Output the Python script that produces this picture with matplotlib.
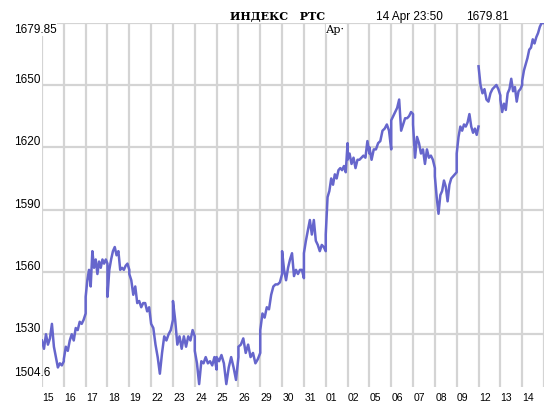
import numpy as np
import matplotlib.pyplot as plt
from matplotlib.transforms import blended_transform_factory

# торговые дни (подписи оси X)
days = ["15", "16", "17", "18", "19", "22", "23", "24", "25", "26", "29", "30",
        "31", "01", "02", "05", "06", "07", "08", "09", "12", "13", "14"]

# значения индекса внутри каждого дня
day_values = [
    [1527, 1523, 1530, 1525, 1528, 1535, 1524, 1519, 1514, 1516, 1515, 1517],
    [1518, 1524, 1522, 1527, 1530, 1527, 1533, 1532, 1536, 1535, 1537, 1540],
    [1548, 1556, 1561, 1553, 1570, 1562, 1566, 1559, 1565, 1562, 1566, 1564, 1566, 1564],
    [1548, 1561, 1566, 1570, 1572, 1568, 1570, 1561, 1562, 1561, 1563, 1564, 1561],
    [1559, 1556, 1549, 1553, 1545, 1546, 1543, 1545, 1545, 1541, 1543, 1535],
    [1535, 1533, 1525, 1519, 1511, 1521, 1529, 1527, 1530, 1532, 1537],
    [1546, 1537, 1525, 1529, 1523, 1529, 1524, 1529, 1527, 1532, 1529],
    [1522, 1516, 1506, 1517, 1516, 1519, 1516, 1517, 1515, 1519, 1513],
    [1519, 1517, 1520, 1516, 1506, 1514, 1519, 1514, 1508, 1519],
    [1524, 1525, 1528, 1521, 1525, 1519, 1521, 1516, 1518, 1521],
    [1532, 1540, 1538, 1543, 1542, 1549, 1553, 1554, 1554, 1555, 1559],
    [1570, 1561, 1556, 1562, 1566, 1569, 1558, 1561, 1559, 1561, 1561, 1557],
    [1569, 1575, 1580, 1585, 1578, 1585, 1575, 1573, 1570, 1573, 1572, 1570],
    [1578, 1596, 1599, 1605, 1602, 1607, 1605, 1609, 1610, 1609, 1611, 1608, 1622],
    [1614, 1617, 1612, 1615, 1610, 1614, 1614, 1615, 1616, 1615, 1623, 1617],
    [1620, 1614, 1619, 1619, 1622, 1623, 1628, 1629, 1631, 1628, 1619],
    [1633, 1635, 1637, 1639, 1643, 1628, 1631, 1634, 1634, 1635, 1637, 1636],
    [1631, 1615, 1625, 1622, 1617, 1619, 1612, 1619, 1615, 1616, 1614, 1610],
    [1606, 1596, 1588, 1597, 1599, 1604, 1601, 1594, 1602, 1605, 1606, 1607, 1608],
    [1617, 1625, 1630, 1628, 1631, 1630, 1632, 1636, 1630, 1627, 1629, 1626, 1630],
    [1659, 1650, 1646, 1648, 1643, 1642, 1646, 1648, 1649, 1650, 1648, 1645],
    [1643, 1637, 1641, 1638, 1646, 1648, 1653, 1647, 1649, 1642, 1647, 1648, 1650],
    [1652, 1657, 1660, 1663, 1667, 1668, 1672, 1670, 1673, 1675, 1678, 1679.85, 1679.81],
]
gap_before = ["12"]  # разрыв линии перед этим днём

y_ticks = [1504.6, 1530, 1560, 1590, 1620, 1650, 1679.85]

xs, ys = [], []
for k, vals in enumerate(day_values):
    if days[k] in gap_before:
        xs.append(np.nan)
        ys.append(np.nan)
    n = len(vals)
    for i, v in enumerate(vals):
        xs.append(k + i / (n - 1) if k < len(days) - 1 else k + i / (n - 1) * 0.97)
        ys.append(v)

fig = plt.figure(figsize=(5.49, 4.06), dpi=100)
ax = fig.add_axes([42 / 549, 1 - 388 / 406, 502 / 549, 364 / 406])

grid_c = "#d4d4d4"
for k in range(len(days) + 1):
    ax.axvline(k, color=grid_c, lw=1.6, zorder=1)
for v in y_ticks[1:]:
    ax.axhline(v, color=grid_c, lw=1.6, zorder=1)

ax.plot(xs, ys, color="#6666cc", lw=1.8, zorder=3)

ax.set_xlim(0, len(days))
ax.set_ylim(y_ticks[0], y_ticks[-1])
for s in ax.spines.values():
    s.set_visible(False)
ax.set_xticks([])
ax.set_yticks([])

fnt = "Liberation Sans"
# подписи дней
for k, d in enumerate(days):
    ax.text(k + 0.28, -0.014, d, transform=blended_transform_factory(ax.transData, ax.transAxes),
            ha="center", va="top", fontsize=7.5, family=fnt)

# подписи значений
tr = blended_transform_factory(ax.transAxes, ax.transData)
x_lab = (14 - 42) / 502
for v in y_ticks:
    lab = "%g" % v
    if v == y_ticks[-1]:
        ax.text(x_lab, v, lab, transform=tr, ha="left", va="top", fontsize=8.5, family=fnt,
                bbox=dict(fc="white", ec="none", pad=0.5), zorder=5)
    elif v == y_ticks[0]:
        ax.text(x_lab, v + 4.5, lab, transform=tr, ha="left", va="bottom", fontsize=8.5, family=fnt)
    else:
        ax.text(x_lab, v, lab, transform=tr, ha="left", va="bottom", fontsize=8.5, family=fnt)

# заголовок
fig.text(230 / 549, 1 - 20 / 406, "ИНДЕКС   РТС", fontsize=8, family="DejaVu Serif",
         weight="bold", ha="left", va="baseline")
fig.text(376 / 549, 1 - 20 / 406, "14 Apr 23:50", fontsize=8.5, family=fnt, ha="left", va="baseline")
fig.text(466 / 549, 1 - 20 / 406, "1679.81", fontsize=8.5, family=fnt, ha="left", va="baseline")
fig.text(326 / 549, 1 - 33 / 406, "Ар·", fontsize=8, family="DejaVu Serif", ha="left",
         va="baseline", bbox=dict(fc="white", ec="none", pad=0.3))

fig.savefig("out.png", dpi=100)
